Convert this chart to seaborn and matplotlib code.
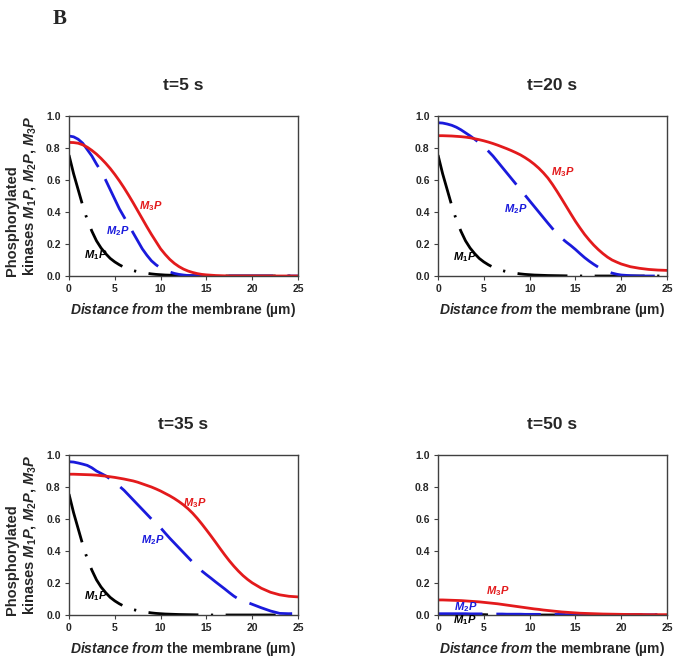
import numpy as np
import pandas as pd
import matplotlib
matplotlib.use("Agg")
import matplotlib.pyplot as plt
import seaborn as sns

# distance from the membrane (um): every 0.5 up to 20, then every 1
dist = np.concatenate([np.arange(0, 20.5, 0.5), np.arange(21, 26)])

# M1P is about the same for t=5, 20, 35 s
m1p_early = [0.756, 0.64, 0.54, 0.44, 0.35, 0.28, 0.22, 0.175, 0.14, 0.11,
             0.088, 0.07, 0.055, 0.044, 0.034, 0.027, 0.021, 0.017, 0.013, 0.010,
             0.008, 0.006, 0.005, 0.004, 0.003, 0.0025, 0.002, 0.0015, 0.001, 0.001,
             0.001, 0, 0, 0, 0, 0, 0, 0, 0, 0,
             0, 0, 0, 0, 0, 0]

# t = 5 s
m2p_5 = [0.875, 0.87, 0.855, 0.83, 0.79, 0.75, 0.70, 0.655, 0.60, 0.54,
         0.48, 0.42, 0.37, 0.32, 0.27, 0.22, 0.17, 0.13, 0.095, 0.07,
         0.05, 0.035, 0.025, 0.016, 0.01, 0.006, 0.003, 0.002, 0.001, 0,
         0, 0, 0, 0, 0, 0, 0, 0, 0, 0,
         0, 0, 0, 0, 0, 0]
m3p_5 = [0.835, 0.834, 0.83, 0.82, 0.805, 0.785, 0.762, 0.735, 0.705, 0.672,
         0.635, 0.595, 0.552, 0.506, 0.458, 0.408, 0.358, 0.308, 0.26, 0.215,
         0.17, 0.135, 0.104, 0.079, 0.059, 0.043, 0.031, 0.022, 0.015, 0.01,
         0.007, 0.005, 0.003, 0.002, 0.001, 0, 0, 0, 0, 0,
         0, 0, 0, 0, 0, 0]

# t = 20 s
m2p_20 = [0.958, 0.956, 0.95, 0.942, 0.93, 0.914, 0.895, 0.876, 0.855, 0.833,
          0.81, 0.78, 0.75, 0.715, 0.68, 0.645, 0.61, 0.575, 0.54, 0.505,
          0.47, 0.435, 0.40, 0.365, 0.33, 0.296, 0.262, 0.236, 0.212, 0.19,
          0.166, 0.14, 0.115, 0.093, 0.073, 0.055, 0.04, 0.028, 0.018, 0.011,
          0.006, 0.002, 0, 0, 0, 0]
m3p_20 = [0.877, 0.877, 0.876, 0.875, 0.873, 0.871, 0.868, 0.864, 0.858, 0.852,
          0.845, 0.837, 0.828, 0.818, 0.807, 0.796, 0.784, 0.771, 0.757, 0.74,
          0.721, 0.699, 0.674, 0.645, 0.612, 0.572, 0.528, 0.482, 0.435, 0.388,
          0.342, 0.30, 0.26, 0.225, 0.193, 0.165, 0.14, 0.118, 0.10, 0.087,
          0.075, 0.058, 0.048, 0.041, 0.037, 0.035]

# t = 35 s
m2p_35 = [0.958, 0.956, 0.95, 0.943, 0.935, 0.92, 0.90, 0.885, 0.87, 0.85,
          0.83, 0.805, 0.78, 0.75, 0.72, 0.69, 0.66, 0.63, 0.60, 0.572,
          0.545, 0.512, 0.48, 0.45, 0.42, 0.39, 0.36, 0.33, 0.30, 0.275,
          0.252, 0.23, 0.207, 0.185, 0.163, 0.14, 0.118, 0.10, 0.088, 0.078,
          0.067, 0.045, 0.025, 0.01, 0.008, 0.01]
m3p_35 = [0.88, 0.88, 0.879, 0.878, 0.877, 0.876, 0.874, 0.871, 0.868, 0.864,
          0.86, 0.855, 0.85, 0.844, 0.838, 0.83, 0.82, 0.81, 0.80, 0.788,
          0.775, 0.76, 0.745, 0.728, 0.709, 0.688, 0.664, 0.636, 0.604, 0.569,
          0.532, 0.494, 0.455, 0.415, 0.376, 0.339, 0.305, 0.274, 0.246, 0.222,
          0.201, 0.167, 0.142, 0.126, 0.117, 0.113]

# t = 50 s
m1p_50 = [0.003, 0.003, 0.003, 0.003, 0.002, 0.002, 0.002, 0.002, 0.002, 0.002,
          0.002, 0.001, 0.001, 0.001, 0.001, 0.001, 0.001, 0.001, 0.001, 0.001,
          0.001, 0, 0, 0, 0, 0, 0, 0, 0, 0,
          0, 0, 0, 0, 0, 0, 0, 0, 0, 0,
          0, 0, 0, 0, 0, 0]
m2p_50 = [0.008, 0.008, 0.008, 0.008, 0.008, 0.008, 0.008, 0.007, 0.007, 0.007,
          0.007, 0.006, 0.006, 0.006, 0.006, 0.005, 0.005, 0.005, 0.005, 0.004,
          0.004, 0.004, 0.004, 0.003, 0.003, 0.003, 0.003, 0.003, 0.002, 0.002,
          0.002, 0.002, 0.002, 0.002, 0.001, 0.001, 0.001, 0.001, 0.001, 0.001,
          0.001, 0.001, 0.001, 0.001, 0.001, 0.001]
m3p_50 = [0.094, 0.094, 0.093, 0.092, 0.091, 0.09, 0.088, 0.086, 0.084, 0.082,
          0.079, 0.076, 0.073, 0.07, 0.066, 0.062, 0.058, 0.054, 0.05, 0.046,
          0.042, 0.038, 0.035, 0.031, 0.028, 0.025, 0.022, 0.019, 0.017, 0.015,
          0.013, 0.011, 0.01, 0.009, 0.008, 0.007, 0.006, 0.0055, 0.005, 0.0045,
          0.004, 0.003, 0.003, 0.002, 0.002, 0.002]

titles = ["t=5 s", "t=20 s", "t=35 s", "t=50 s"]
panels = [
    (m1p_early, m2p_5, m3p_5),
    (m1p_early, m2p_20, m3p_20),
    (m1p_early, m2p_35, m3p_35),
    (m1p_50, m2p_50, m3p_50),
]
# (x, y) of the curve labels M1P, M2P, M3P in each panel
label_pos = [
    [(1.6, 0.13), (4.0, 0.28), (7.6, 0.44)],
    [(1.6, 0.12), (7.2, 0.42), (12.3, 0.65)],
    [(1.6, 0.12), (7.9, 0.47), (12.4, 0.70)],
    [(1.6, -0.03), (1.7, 0.05), (5.2, 0.15)],
]

sns.set_theme(style="ticks")
plt.rcParams["font.family"] = ["Liberation Sans", "DejaVu Sans"]
plt.rcParams["font.weight"] = "bold"
plt.rcParams["mathtext.fontset"] = "custom"
plt.rcParams["mathtext.rm"] = "Liberation Sans:bold"
plt.rcParams["mathtext.bf"] = "Liberation Sans:bold"
plt.rcParams["mathtext.it"] = "Liberation Sans:italic:bold"
plt.rcParams["mathtext.bfit"] = "Liberation Sans:italic:bold"

colors = ["black", "#1a1adc", "#e31a1c"]
styles = [(0, (18, 4.5, 0.8, 4.5)), (0, (16, 5)), "-"]
names = [r"$\mathbfit{M}_{\mathbf{1}}\mathbfit{P}$",
         r"$\mathbfit{M}_{\mathbf{2}}\mathbfit{P}$",
         r"$\mathbfit{M}_{\mathbf{3}}\mathbfit{P}$"]

fig = plt.figure(figsize=(6.81, 6.66), dpi=100)
rects = [
    [0.1013, 0.5856, 0.3363, 0.2402],
    [0.6432, 0.5856, 0.3363, 0.2402],
    [0.1013, 0.0766, 0.3363, 0.2402],
    [0.6432, 0.0766, 0.3363, 0.2402],
]

for i, rect in enumerate(rects):
    ax = fig.add_axes(rect)
    for series, col, ls in zip(panels[i], colors, styles):
        sns.lineplot(x=dist, y=series, ax=ax, color=col, linestyle=ls, lw=2)
    for (lx, ly), name, col in zip(label_pos[i], names, colors):
        ax.text(lx, ly, name, color=col, fontsize=8, ha="left", va="center",
                clip_on=False)
    ax.set_xlim(0, 25)
    ax.set_ylim(0, 1.0)
    ax.set_xticks([0, 5, 10, 15, 20, 25])
    ax.set_yticks([0, 0.2, 0.4, 0.6, 0.8, 1.0])
    ax.set_yticklabels(["0.0", "0.2", "0.4", "0.6", "0.8", "1.0"])
    ax.tick_params(labelsize=7.5, length=3, width=0.8, pad=3, color="#404040")
    for sp in ax.spines.values():
        sp.set_color("#404040")
        sp.set_linewidth(1)
    ax.set_title(titles[i], fontsize=12.5, fontweight="bold", pad=19)
    ax.set_xlabel(r"$\mathbfit{Distance\ from}$ the membrane (µm)",
                  fontsize=10, fontweight="bold", labelpad=5)
    if i % 2 == 0:
        ax.set_ylabel("Phosphorylated\nkinases " + ", ".join(names),
                      fontsize=10.5, fontweight="bold", labelpad=6,
                      linespacing=1.15, multialignment="left")
    else:
        ax.set_ylabel("")

fig.text(0.078, 0.986, "B", fontsize=15, fontweight="bold",
         family="Liberation Serif", ha="left", va="top")

fig.savefig("out.png", dpi=100, facecolor="white")
